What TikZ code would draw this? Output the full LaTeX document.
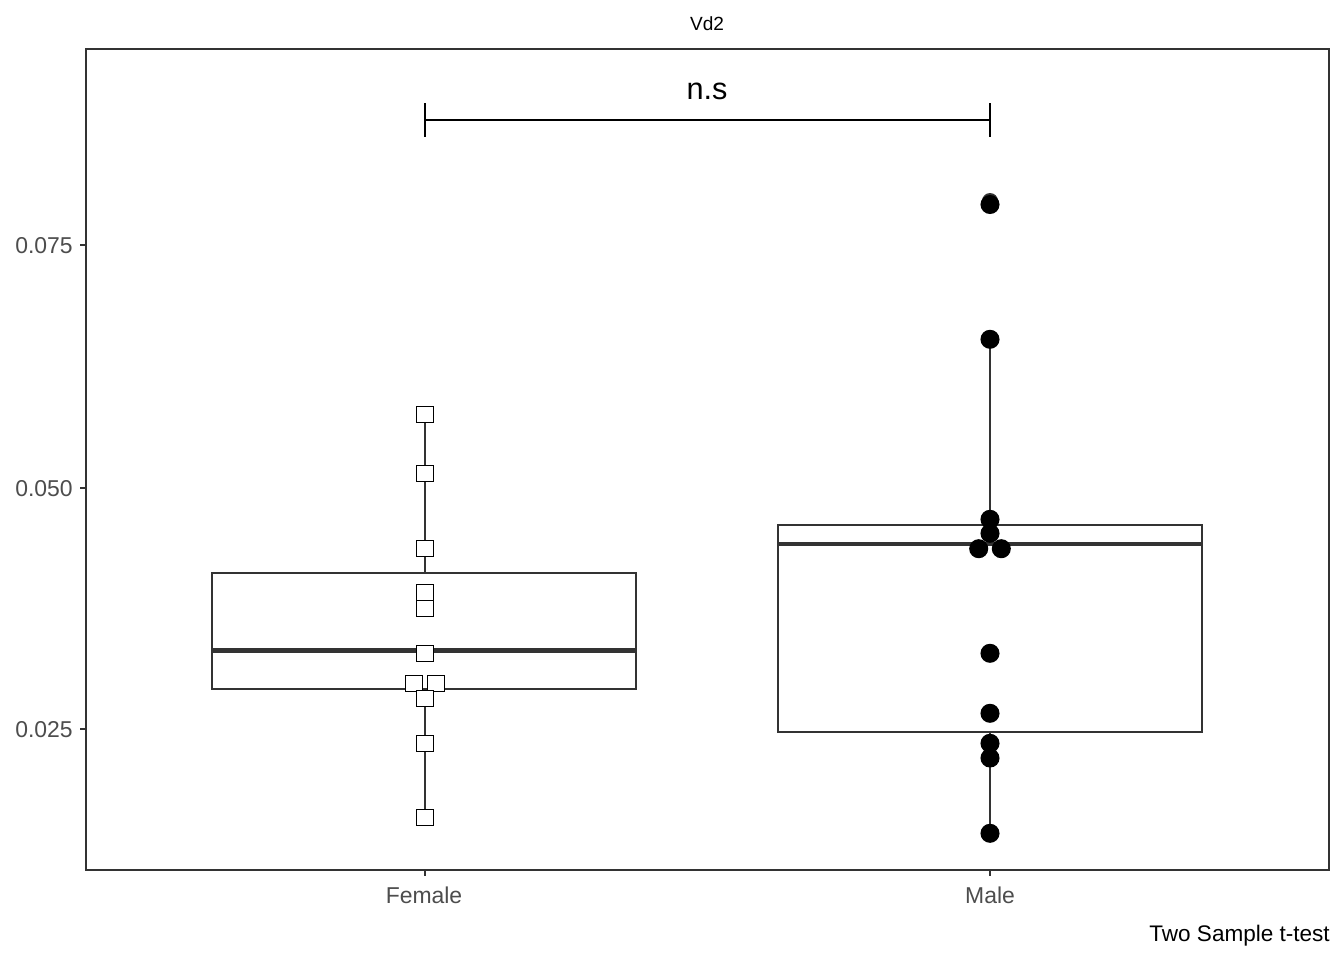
\documentclass[tikz,border=0pt]{standalone}
\usepackage{fontspec}
\setmainfont{Liberation Sans}
\usepackage{tikz}
\usepackage{xcolor}
\usetikzlibrary{positioning,shapes}

\definecolor{gray20}{HTML}{333333}
\definecolor{gray30}{HTML}{4D4D4D}

\begin{document}
\begin{tikzpicture}[x=0.75pt,y=-0.75pt,
  boxline/.style={draw=gray20,line width=1.1pt},
  medline/.style={draw=gray20,line width=3.4pt},
  fpt/.style={rectangle,draw=black,fill=white,line width=0.8pt,minimum size=12.3pt},
  mpt/.style={circle,fill=black,minimum size=14.3pt},
  ticklab/.style={text=gray30,font=\fontsize{17.2}{19}\selectfont}]
\tikzstyle{every node}+=[inner sep=0pt]
\useasboundingbox (0,0) rectangle (1344,960);
\fill [white] (0,0) rectangle (1344,960);
% panel and axes
\draw [boxline] (86,49) rectangle (1329,870);
\draw [boxline] (80,245) -- (86,245);
\draw [boxline] (80,488) -- (86,488);
\draw [boxline] (80,729) -- (86,729);
\draw [boxline] (425,870) -- (425,876);
\draw [boxline] (990,870) -- (990,876);
\node [ticklab,anchor=base east] (y075) at (73,253) {0.075};
\node [ticklab,anchor=base east] (y050) at (73,496) {0.050};
\node [ticklab,anchor=base east] (y025) at (73,737) {0.025};
\node [ticklab,anchor=base] (female) at (424,903) {Female};
\node [ticklab,anchor=base] (male) at (990,903) {Male};
\node [font=\fontsize{14.3}{16}\selectfont,anchor=base] (title) at (707,31) {Vd2};
\node [font=\fontsize{16.9}{18}\selectfont,anchor=base east] (test) at (1330,941) {Two Sample t-test};
% significance bar
\draw [black,line width=1.5pt] (425,120) -- (990,120);
\draw [black,line width=1.5pt] (425,103) -- (425,137);
\draw [black,line width=1.5pt] (990,103) -- (990,137);
\node [font=\fontsize{23}{25}\selectfont,anchor=base] (ns) at (707,99) {n.s};
% female box
\draw [boxline] (425,573) -- (425,414);
\draw [boxline] (425,689) -- (425,818);
\draw [boxline] (212,573) rectangle (636,689);
\draw [medline] (212,650.5) -- (636,650.5);
% male box
\draw [boxline] (990,525) -- (990,339);
\draw [boxline] (990,732) -- (990,833);
\draw [boxline] (778,525) rectangle (1202,732);
\draw [medline] (778,544) -- (1202,544);
\fill [gray20] (990,201) circle (8);
% female points
\node [fpt] (f1) at (425,414.3) {};
\node [fpt] (f2) at (425,473.7) {};
\node [fpt] (f3) at (425,548.7) {};
\node [fpt] (f4) at (425,592.7) {};
\node [fpt] (f5) at (425,608.7) {};
\node [fpt] (f6) at (425,653.7) {};
\node [fpt] (f7) at (414,683.7) {};
\node [fpt] (f8) at (436,683.7) {};
\node [fpt] (f9) at (425,698.3) {};
\node [fpt] (f10) at (425,743.3) {};
\node [fpt] (f11) at (425,817.7) {};
% male points
\node [mpt] (m1) at (990,204.5) {};
\node [mpt] (m2) at (990,339.3) {};
\node [mpt] (m3) at (990,519.3) {};
\node [mpt] (m4) at (990,533.3) {};
\node [mpt] (m5) at (978.7,548.7) {};
\node [mpt] (m6) at (1001.3,548.7) {};
\node [mpt] (m7) at (990,653.3) {};
\node [mpt] (m8) at (990,713.3) {};
\node [mpt] (m9) at (990,743.3) {};
\node [mpt] (m10) at (990,758) {};
\node [mpt] (m11) at (990,833.3) {};
\end{tikzpicture}
\end{document}
